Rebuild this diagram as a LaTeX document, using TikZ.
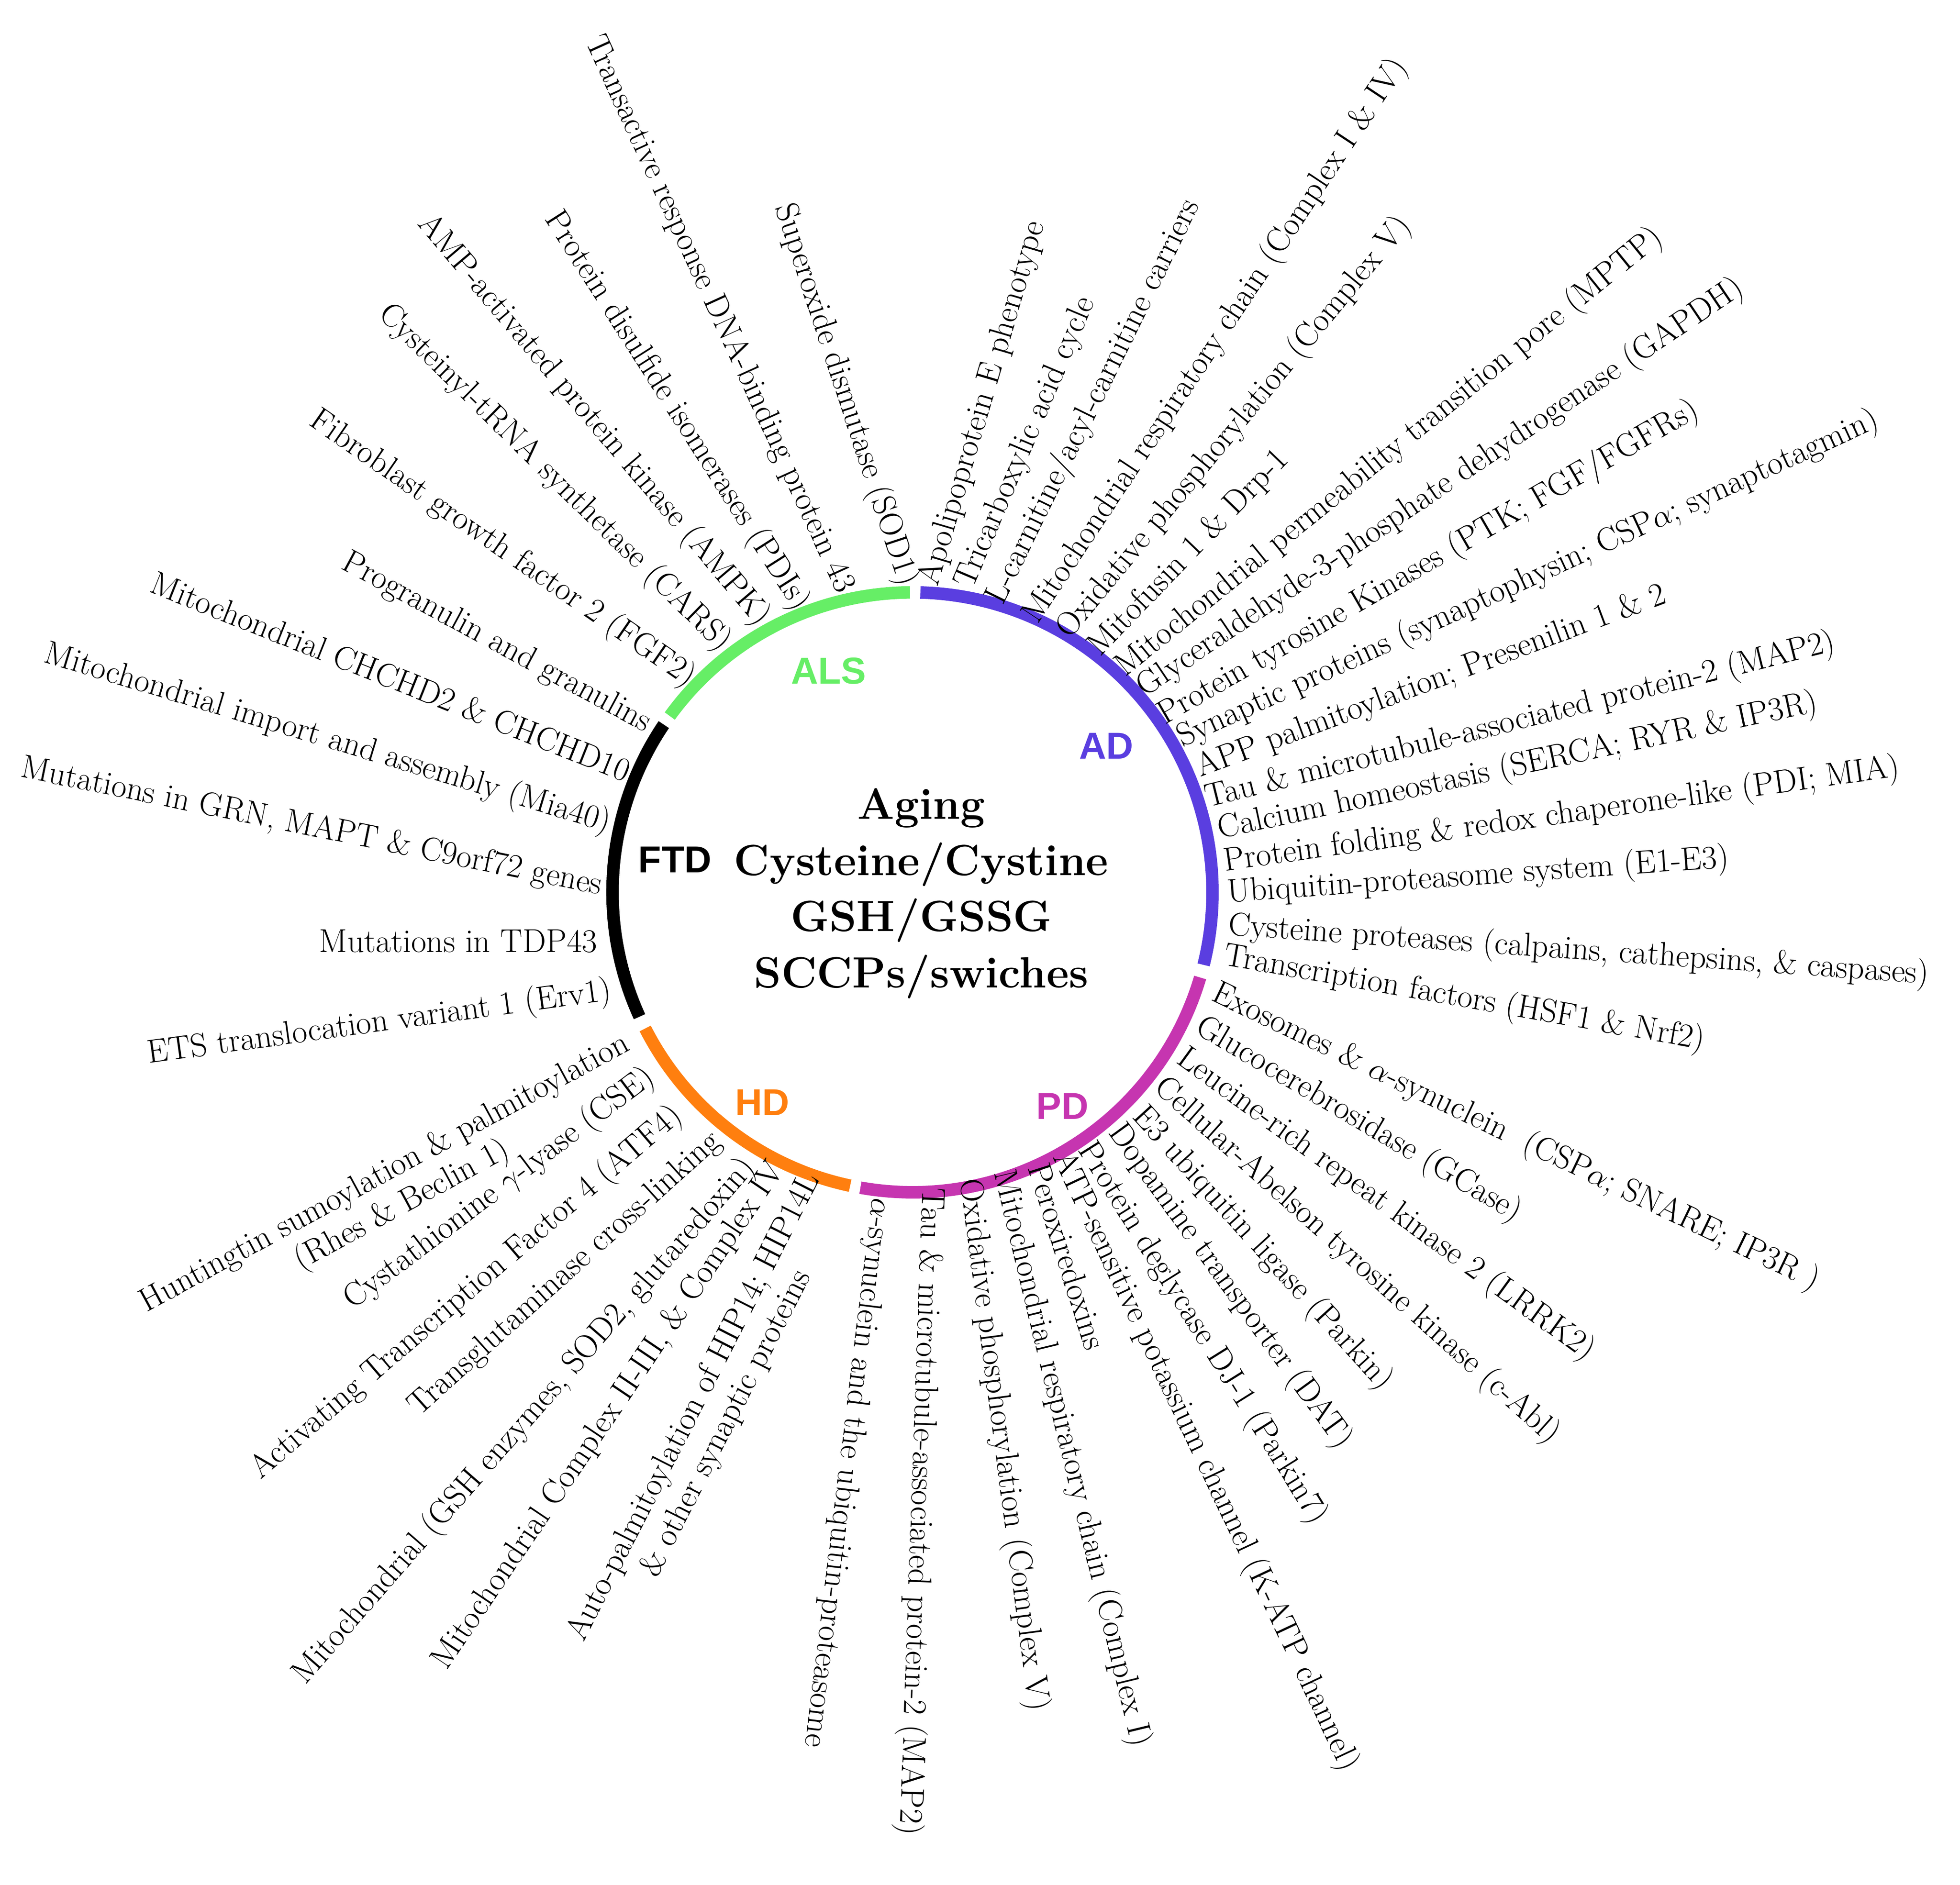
\documentclass[tikz,border=0pt]{standalone}
\usepackage{fontspec}
\newfontfamily\arcfont{Liberation Sans}
\begin{document}
\begin{tikzpicture}[x=1pt,y=-1pt,
  lab/.style={font=\fontsize{26.5}{29}\selectfont, inner sep=0pt},
  rl/.style={lab,anchor=base west},
  ll/.style={lab,anchor=base east},
  arcl/.style={font=\arcfont\bfseries\fontsize{30}{34}\selectfont},
  ring/.style={line width=10pt}]
\useasboundingbox (0,0) rectangle (1568,1508);
\coordinate (c) at (730,714);
\definecolor{als}{HTML}{66EE66}
\definecolor{ad}{HTML}{5A3EE0}
\definecolor{pd}{HTML}{C635B0}
\definecolor{hd}{HTML}{FF7F0F}
\draw[ring,als] (c) ++(-90.5:240) arc[start angle=-90.5,end angle=-144,radius=240];
\draw[ring,ad] (c) ++(-88.5:240) arc[start angle=-88.5,end angle=14,radius=240];
\draw[ring,pd] (c) ++(16.5:240) arc[start angle=16.5,end angle=100,radius=240];
\draw[ring,hd] (c) ++(102:240) arc[start angle=102,end angle=153,radius=240];
\draw[ring,black] (c) ++(155.5:240) arc[start angle=155.5,end angle=214,radius=240];
\node[font=\bfseries\fontsize{35}{45}\selectfont,align=center] (ctr) at (737,715) {Aging\\Cysteine/Cystine\\GSH/GSSG\\SCCPs/swiches};
\node[arcl,text=als] (als) at (663,537) {ALS};
\node[arcl,text=ad] (ad) at (885,597) {AD};
\node[arcl,text=pd] (pd) at (850,885) {PD};
\node[arcl,text=hd] (hd) at (610,882) {HD};
\node[arcl] (ftd) at (540,688) {FTD};
% right side
\node[rl,rotate=73.6] (l1) at (750,470) {Apolipoprotein E phenotype};
\node[rl,rotate=67] (l2) at (778,472) {Tricarboxylic acid cycle};
\node[rl,rotate=63.8] (l3) at (802,485) {L-carnitine/acyl-carnitine carriers};
\node[rl,rotate=56.5] (l4) at (830,500) {Mitochondrial respiratory chain (Complex I \& IV)};
\node[rl,rotate=50.5] (l5) at (856,512) {Oxidative phosphorylation (Complex V)};
\node[rl,rotate=46] (l6) at (880,526) {Mitofusin 1 \& Drp-1};
\node[rl,rotate=39] (l7) at (900,542) {Mitochondrial permeability transition pore (MPTP)};
\node[rl,rotate=34] (l8) at (916,558) {Glyceraldehyde-3-phosphate dehydrogenase (GAPDH)};
\node[rl,rotate=30] (l9) at (932,580) {Protein tyrosine Kinases (PTK; FGF/FGFRs)};
\node[rl,rotate=24.7] (l10) at (946,598) {Synaptic proteins (synaptophysin; CSP$\alpha$; synaptotagmin)};
\node[rl,rotate=20.5] (l11) at (960,622) {APP palmitoylation; Presenilin 1 \& 2};
\node[rl,rotate=14] (l12) at (966,646) {Tau \& microtubule-associated protein-2 (MAP2)};
\node[rl,rotate=12] (l13) at (976,671) {Calcium homeostasis (SERCA; RYR \& IP3R)};
\node[rl,rotate=8] (l14) at (980,697) {Protein folding \& redox chaperone-like (PDI; MIA)};
\node[rl,rotate=4] (l15) at (982,722) {Ubiquitin-proteasome system (E1-E3)};
\node[rl,rotate=-4] (l16) at (982,748) {Cysteine proteases (calpains, cathepsins, \& caspases)};
\node[rl,rotate=-10] (l17) at (978,772) {Transcription factors (HSF1 \& Nrf2)};
\node[rl,rotate=-25.7] (l18) at (968,800) {Exosomes \& $\alpha$-synuclein\ \ (CSP$\alpha$; SNARE; IP3R )};
\node[rl,rotate=-30.6] (l19) at (955,826) {Glucocerebrosidase (GCase)};
\node[rl,rotate=-36] (l20) at (940,850) {Leucine-rich repeat kinase 2 (LRRK2)};
\node[rl,rotate=-41.8] (l21) at (922,872) {Cellular-Abelson tyrosine kinase (c-Abl)};
\node[rl,rotate=-47.7] (l22) at (905,894) {E3 ubiquitin ligase (Parkin)};
\node[rl,rotate=-54] (l23) at (886,906) {Dopamine transporter (DAT)};
\node[rl,rotate=-58] (l24) at (862,920) {Protein deglycase DJ-1 (Parkin7)};
\node[rl,rotate=-64.8] (l25) at (842,926) {ATP-sensitive potassium channel (K-ATP channel)};
\node[rl,rotate=-72.5] (l26) at (822,934) {Peroxiredoxins};
\node[rl,rotate=-76.5] (l27) at (795,938) {Mitochondrial respiratory chain (Complex I)};
\node[rl,rotate=-82.6] (l28) at (768,944) {Oxidative phosphorylation (Complex V)};
\node[rl,rotate=-92] (l29) at (738,950) {Tau \& microtubule-associated protein-2 (MAP2)};
\node[rl,rotate=-97] (l30) at (698,958) {$\alpha$-synuclein and the ubiquitin-proteasome};
% left side
\node[lab,align=center,anchor=north east,rotate=63] (l31) at (639,935) {Auto-palmitoylation of HIP14; HIP14L\\\& other synaptic proteins};
\node[ll,rotate=56] (l32) at (628,936) {Mitochondrial Complex II-III, \& Complex IV};
\node[ll,rotate=48.9] (l33) at (605,935) {Mitochondrial (GSH enzymes, SOD2, glutaredoxin)};
\node[ll,rotate=42] (l34) at (578,915) {Transglutaminase cross-linking};
\node[ll,rotate=40.5] (l35) at (547,895) {Activating Transcription Factor 4 (ATF4)};
\node[ll,rotate=37] (l36) at (525,865) {Cystathionine $\gamma$-lyase (CSE)};
\node[lab,align=center,anchor=north east,rotate=28.5] (l37) at (496,823) {Huntingtin sumoylation \& palmitoylation\\(Rhes \& Beclin 1)};
\node[ll,rotate=7.8] (l38) at (490,800) {ETS translocation variant 1 (Erv1)};
\node[ll,rotate=0] (l39) at (478,762) {Mutations in TDP43};
\node[ll,rotate=-11.5] (l40) at (480,716) {Mutations in GRN, MAPT \& C9orf72 genes};
\node[ll,rotate=-16.8] (l41) at (486,666) {Mitochondrial import and assembly (Mia40)};
\node[ll,rotate=-21.8] (l42) at (500,626) {Mitochondrial CHCHD2 \& CHCHD10};
\node[ll,rotate=-28.3] (l43) at (516,586) {Progranulin and granulins};
\node[ll,rotate=-34.7] (l44) at (550,550) {Fibroblast growth factor 2 (FGF2)};
\node[ll,rotate=-44.5] (l45) at (576,522) {Cysteinyl-tRNA synthetase (CARS)};
\node[ll,rotate=-49.8] (l46) at (606,502) {AMP-activated protein kinase (AMPK)};
\node[ll,rotate=-57.5] (l47) at (636,490) {Protein disulfide isomerases (PDIs)};
\node[ll,rotate=-65.5] (l48) at (670,476) {Transactive response DNA-binding protein 43};
\node[ll,rotate=-71.8] (l49) at (720,470) {Superoxide dismutase (SOD1)};
\end{tikzpicture}
\end{document}
